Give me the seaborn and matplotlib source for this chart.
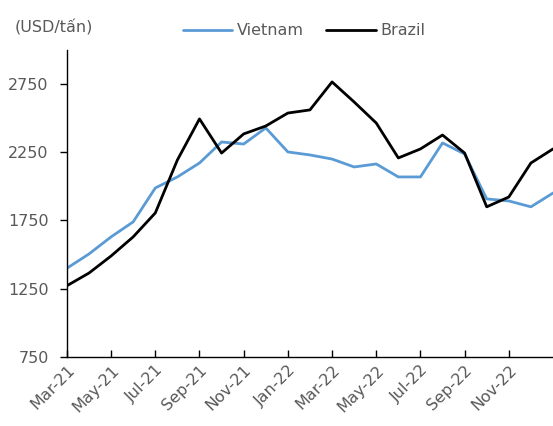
import seaborn as sns
import pandas as pd
import numpy as np
import matplotlib.pyplot as plt
from matplotlib.lines import Line2D

# monthly coffee export price, Mar-21 .. Jan-23
months = ["Mar-21", "Apr-21", "May-21", "Jun-21", "Jul-21", "Aug-21", "Sep-21", "Oct-21",
          "Nov-21", "Dec-21", "Jan-22", "Feb-22", "Mar-22", "Apr-22", "May-22", "Jun-22",
          "Jul-22", "Aug-22", "Sep-22", "Oct-22", "Nov-22", "Dec-22", "Jan-23"]
vietnam = [1400, 1505, 1630, 1740, 1988, 2069, 2171, 2325, 2310, 2428, 2252, 2230,
           2200, 2142, 2164, 2069, 2069, 2318, 2237, 1908, 1893, 1850, 1951]
brazil = [1272, 1365, 1490, 1630, 1805, 2193, 2494, 2244, 2384, 2442, 2537, 2560,
          2765, 2618, 2464, 2208, 2274, 2376, 2244, 1850, 1922, 2171, 2274]

df = pd.DataFrame({"idx": list(range(len(months))) * 2,
                   "price": vietnam + brazil,
                   "country": ["Vietnam"] * len(months) + ["Brazil"] * len(months)})

sns.set_style("white")
plt.rcParams["font.family"] = ["DejaVu Sans"]
grey = "#595959"

fig = plt.figure(figsize=(5.53, 4.26), dpi=100)
ax = fig.add_axes([0.121, 0.162, 0.879, 0.721])

sns.lineplot(data=df, x="idx", y="price", hue="country",
             palette={"Vietnam": "#5B9BD5", "Brazil": "black"},
             linewidth=2, ax=ax, legend=False)

ax.set_xlim(0, len(months) - 1)
ax.set_ylim(750, 3000)
ax.set_yticks([750, 1250, 1750, 2250, 2750])
ticks = list(range(0, 21, 2))
ax.set_xticks(ticks)
ax.set_xticklabels([months[i] for i in ticks], rotation=45, ha="right",
                   rotation_mode="anchor")
ax.set_xlabel("")
ax.set_ylabel("")

for s in ["top", "right"]:
    ax.spines[s].set_visible(False)
ax.spines["left"].set_color("black")
ax.spines["bottom"].set_color("black")
ax.spines["left"].set_linewidth(1)
ax.spines["bottom"].set_linewidth(1)
ax.tick_params(axis="y", direction="out", length=5, width=1, color="black",
               labelsize=11.5, labelcolor=grey, pad=8, left=True)
ax.tick_params(axis="x", direction="in", length=5, width=1, color="black",
               labelsize=11.5, labelcolor=grey, pad=4, bottom=True)

fig.text(0.027, 0.936, "(USD/tấn)", fontsize=11.5, color=grey, va="center")

handles = [Line2D([], [], color="#5B9BD5", lw=2), Line2D([], [], color="black", lw=2)]
fig.legend(handles, ["Vietnam", "Brazil"], loc="center", bbox_to_anchor=(0.55, 0.928),
           ncol=2, frameon=False, fontsize=11.5, labelcolor=grey,
           handlelength=3.1, handletextpad=0.3, columnspacing=1.4)

fig.savefig("out.png", dpi=100)
